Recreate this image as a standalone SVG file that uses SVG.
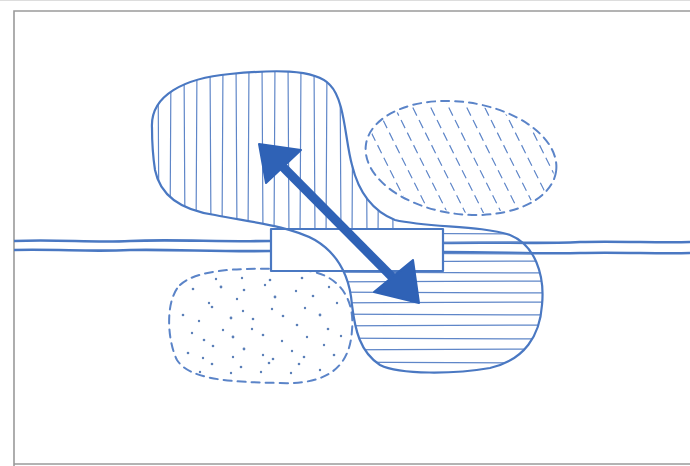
<svg xmlns="http://www.w3.org/2000/svg" width="690" height="466" viewBox="0 0 690 466">
<style>
.ol{fill:none;stroke:#4a78c2;stroke-width:2.2;stroke-linejoin:round;stroke-linecap:round}
.ht{fill:none;stroke:#5f86c8;stroke-width:1.2}
.dash{fill:none;stroke:#5b84c8;stroke-width:2;stroke-dasharray:8 6;stroke-linecap:round}
.road{fill:none;stroke:#4a78c2;stroke-width:2.6}
.dot{fill:#5b7fb8}
</style>
<defs>
<path id="outline" d="M152,128 C150,95 185,78 230,74 C270,70 315,68 330,85 C345,100 345,140 352,165 C358,190 370,210 395,220 C430,228 480,225 510,235 C535,245 545,275 542,305 C540,335 525,360 490,368 C455,374 400,375 380,365 C360,352 355,330 352,305 C350,280 340,255 315,240 C290,226 250,222 215,215 C180,210 160,195 155,170 C152,150 152,140 152,128 Z"/>
<clipPath id="clipShape"><use href="#outline"/></clipPath>
<clipPath id="clipTop"><rect x="0" y="0" width="690" height="229"/></clipPath>
<clipPath id="clipBot"><rect x="0" y="229" width="690" height="240"/></clipPath>
<clipPath id="clipEll"><ellipse cx="461" cy="158" rx="94" ry="54" transform="rotate(8 461 158)"/></clipPath>
</defs>
<rect x="0" y="0" width="690" height="466" fill="#fff"/>
<line x1="0" y1="0.5" x2="690" y2="0.5" stroke="#ddd" stroke-width="1"/>
<path d="M14,466 L14,11 L692,11 M14,464 L692,464" fill="none" stroke="#9a9a9a" stroke-width="1.6"/>

<g id="road">
<path class="road" d="M14,241 C60,239 90,243 130,241 C170,239 220,242 271,241"/>
<path class="road" d="M14,250 C60,249 90,252 130,250 C170,249 220,252 271,251"/>
<path class="road" d="M443,243 C500,242 540,244 580,242 C620,241 660,243 690,242"/>
<path class="road" d="M443,252 C500,252 540,254 580,253 C620,252 660,254 690,253"/>
</g>

<g id="ellipse-hatched">
<g clip-path="url(#clipEll)">
<path class="ht" stroke-dasharray="9 5" d="M340,70 L420,230 M358,70 L438,230 M376,70 L456,230 M394,70 L474,230 M412,70 L492,230 M430,70 L510,230 M448,70 L528,230 M466,70 L546,230 M484,70 L564,230 M502,70 L582,230 M520,70 L600,230 M322,70 L402,230"/>
</g>
<ellipse class="dash" cx="461" cy="158" rx="96" ry="56" transform="rotate(8 461 158)"/>
</g>

<g id="blob-dotted">
<path class="dash" d="M180,285 C200,266 260,268 300,270 C340,272 355,300 352,330 C350,365 330,385 280,383 C230,382 190,380 177,360 C167,340 165,300 180,285 Z"/>
<g class="dot">
<circle cx="193" cy="289" r="1.3"/><circle cx="209" cy="303" r="1.2"/><circle cx="221" cy="287" r="1.4"/><circle cx="237" cy="299" r="1.2"/><circle cx="244" cy="290" r="1.3"/><circle cx="265" cy="285" r="1.2"/><circle cx="275" cy="297" r="1.4"/><circle cx="296" cy="291" r="1.2"/><circle cx="313" cy="296" r="1.3"/><circle cx="329" cy="287" r="1.2"/>
<circle cx="183" cy="315" r="1.3"/><circle cx="199" cy="321" r="1.2"/><circle cx="212" cy="307" r="1.3"/><circle cx="231" cy="318" r="1.4"/><circle cx="243" cy="311" r="1.2"/><circle cx="253" cy="319" r="1.3"/><circle cx="272" cy="309" r="1.2"/><circle cx="283" cy="316" r="1.3"/><circle cx="305" cy="308" r="1.2"/><circle cx="320" cy="315" r="1.4"/><circle cx="337" cy="303" r="1.2"/>
<circle cx="192" cy="333" r="1.2"/><circle cx="204" cy="340" r="1.3"/><circle cx="223" cy="330" r="1.2"/><circle cx="233" cy="337" r="1.4"/><circle cx="252" cy="329" r="1.2"/><circle cx="263" cy="335" r="1.3"/><circle cx="282" cy="341" r="1.2"/><circle cx="297" cy="325" r="1.3"/><circle cx="307" cy="337" r="1.2"/><circle cx="328" cy="329" r="1.3"/><circle cx="341" cy="336" r="1.2"/>
<circle cx="188" cy="353" r="1.3"/><circle cx="203" cy="358" r="1.2"/><circle cx="213" cy="346" r="1.3"/><circle cx="233" cy="357" r="1.2"/><circle cx="244" cy="349" r="1.4"/><circle cx="263" cy="355" r="1.2"/><circle cx="273" cy="359" r="1.3"/><circle cx="292" cy="351" r="1.2"/><circle cx="304" cy="357" r="1.3"/><circle cx="324" cy="345" r="1.2"/><circle cx="334" cy="355" r="1.3"/>
<circle cx="200" cy="372" r="1.2"/><circle cx="212" cy="364" r="1.3"/><circle cx="231" cy="373" r="1.2"/><circle cx="241" cy="367" r="1.3"/><circle cx="261" cy="372" r="1.2"/><circle cx="269" cy="363" r="1.3"/><circle cx="291" cy="373" r="1.2"/><circle cx="299" cy="364" r="1.3"/><circle cx="320" cy="370" r="1.2"/>
<circle cx="242" cy="278" r="1.2"/><circle cx="270" cy="280" r="1.3"/><circle cx="216" cy="279" r="1.2"/><circle cx="302" cy="278" r="1.3"/>
</g>
</g>

<g id="blob-main">
<g clip-path="url(#clipShape)">
<g clip-path="url(#clipTop)">
<path class="ht" d="M158,60 L159,240 M171,60 L170,240 M184,60 L185,240 M197,60 L196,240 M210,60 L211,240 M223,60 L222,240 M236,60 L237,240 M249,60 L248,240 M262,60 L263,240 M275,60 L274,240 M288,60 L289,240 M301,60 L300,240 M314,60 L315,240 M327,60 L326,240 M340,60 L341,240 M353,60 L352,240 M366,60 L367,240 M379,60 L378,240 M392,60 L393,240"/>
</g>
<g clip-path="url(#clipBot)">
<path class="ht" d="M300,233 L560,234 M300,243 L560,242 M300,253 L560,254 M300,262 L560,261 M300,272 L560,273 M300,282 L560,281 M300,292 L560,293 M300,303 L560,302 M300,314 L560,315 M300,326 L560,325 M300,338 L560,339 M300,350 L560,349 M300,362 L560,363"/>
</g>
</g>
<rect x="271" y="229" width="172" height="42" fill="#fff"/>
<use href="#outline" class="ol"/>
</g>

<g id="rect-node">
<path class="ol" d="M271,229 L443,229 L443,271 L271,271 Z" stroke-width="2.6"/>
</g>

<g id="connectors">
<line x1="283" y1="167" x2="398" y2="283" stroke="#2f62b6" stroke-width="9"/>
<polygon points="259,144 301,150 266,183" fill="#2f62b6" stroke="#2f62b6" stroke-width="2" stroke-linejoin="round"/>
<polygon points="419,303 413,260 374,292" fill="#2f62b6" stroke="#2f62b6" stroke-width="2" stroke-linejoin="round"/>
</g>
</svg>
